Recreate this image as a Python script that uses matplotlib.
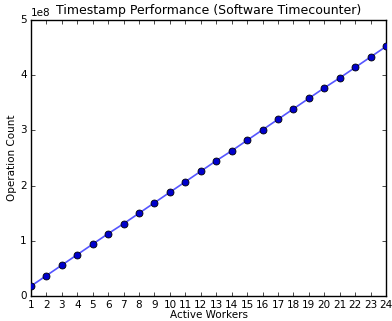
import matplotlib
matplotlib.use("Agg")
import matplotlib.pyplot as plt

plt.style.use("classic")

workers = list(range(1, 25))
counts = [0.18, 0.37, 0.56, 0.75, 0.94, 1.13, 1.31, 1.50, 1.69, 1.88, 2.07, 2.26,
          2.45, 2.63, 2.82, 3.01, 3.20, 3.39, 3.58, 3.77, 3.95, 4.14, 4.33, 4.52]
counts = [c * 1e8 for c in counts]

fig = plt.figure(figsize=(3.92, 3.21), dpi=100, facecolor="white")
ax = fig.add_axes([31/392, 1 - 296/321, (386-31)/392, (296-20)/321])
ax.plot(workers, counts, color="#5555ff", lw=1.2, zorder=2)
ax.plot(workers, counts, "o", color="#0000cc", mec="black", mew=0.6, ms=5, zorder=3)
ax.set_xlim(1, 24)
ax.set_ylim(0, 5e8)
ax.set_xticks(workers)
ax.tick_params(labelsize=7.5, length=3, pad=3)
ax.yaxis.get_offset_text().set_fontsize(7.5)
ax.set_xlabel("Active Workers", fontsize=7.5, labelpad=0)
ax.set_ylabel("Operation Count", fontsize=7.5, labelpad=2)
ax.set_title("Timestamp Performance (Software Timecounter)", fontsize=9, y=0.995)
fig.savefig("out.png", dpi=100, facecolor="white")
